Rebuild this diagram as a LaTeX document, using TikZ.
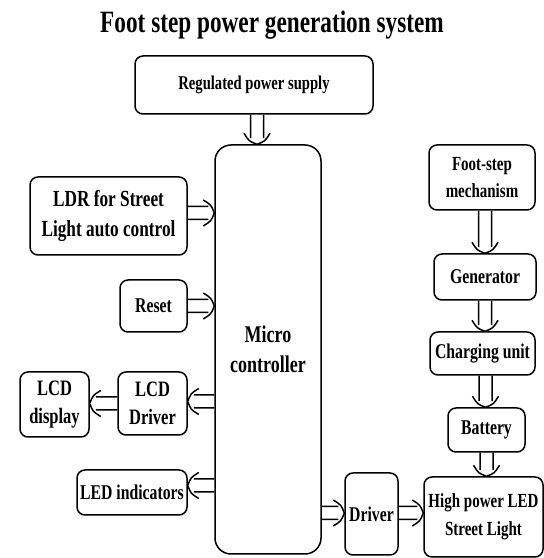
\documentclass[tikz,border=0pt]{standalone}
\usepackage{fontspec}
\newfontfamily\tnr{Liberation Serif}[FakeStretch=0.75]
\usetikzlibrary{arrows.meta,positioning,calc}

\begin{document}
\begin{tikzpicture}[x=1pt,y=1pt,
  blk/.style={draw,line width=1.5pt,rounded corners=8pt,align=center,inner sep=0pt,
    font=\tnr\bfseries\fontsize{21}{29}\selectfont},
  flow/.style={line width=1.5pt,line join=round,
    to path={let \p1=(\tikztostart), \p2=(\tikztotarget), \n1={atan2(\y2-\y1,\x2-\x1)} in
      ($(\p1)+({\n1+90}:6.5pt)$) -- ($(\p2)+(\n1:-6pt)+({\n1+90}:6.5pt)$)
      ($(\p1)+({\n1-90}:6.5pt)$) -- ($(\p2)+(\n1:-6pt)+({\n1-90}:6.5pt)$)
      ($(\p2)+(\n1:-11pt)+({\n1+90}:13pt)$) .. controls ($(\p2)+(\n1:-3pt)+({\n1+90}:8pt)$) .. (\p2)
      .. controls ($(\p2)+(\n1:-3pt)+({\n1-90}:8pt)$) .. ($(\p2)+(\n1:-11pt)+({\n1-90}:13pt)$)}}]
\useasboundingbox (0,0) rectangle (544,558);
\node[font=\tnr\bfseries\fontsize{31}{31}\selectfont] (title) at (272,533) {Foot step power generation system};
% left part
\node[blk,minimum width=238pt,minimum height=58pt,font=\tnr\bfseries\fontsize{19.5}{24}\selectfont] (rps) at (254,473) {Regulated power supply};
\node[blk,rounded corners=16pt,minimum width=106pt,minimum height=409pt,font=\tnr\bfseries\fontsize{24}{30}\selectfont] (mc) at (268,208.5) {Micro\\controller};
\node[blk,minimum width=157pt,minimum height=78pt,font=\tnr\bfseries\fontsize{23}{30}\selectfont] (ldr) at (108.5,342) {LDR for Street\\Light auto control};
\node[blk,minimum width=67pt,minimum height=52pt] (reset) at (153.5,252) {Reset};
\node[blk,minimum width=69pt,minimum height=63pt,font=\tnr\bfseries\fontsize{22}{28}\selectfont] (lcdd) at (152.5,154.5) {LCD\\Driver};
\node[blk,minimum width=69pt,minimum height=65pt,font=\tnr\bfseries\fontsize{22}{28}\selectfont] (lcd) at (54.5,153.5) {LCD\\display};
\node[blk,minimum width=110pt,minimum height=45pt] (led) at (132,65.5) {LED indicators};
\node[blk,minimum width=53pt,minimum height=82pt] (drv) at (371.5,44) {Driver};
% right part
\node[blk,minimum width=106pt,minimum height=65pt,font=\tnr\bfseries\fontsize{20}{27}\selectfont] (foot) at (482,380.5) {Foot-step\\mechanism};
\node[blk,minimum width=102pt,minimum height=46pt] (gen) at (485,281) {Generator};
\node[blk,minimum width=105pt,minimum height=43pt] (chg) at (482.5,204.5) {Charging unit};
\node[blk,minimum width=77pt,minimum height=44pt] (bat) at (486.5,128) {Battery};
\node[blk,minimum width=119pt,minimum height=80pt,font=\tnr\bfseries\fontsize{20}{28}\selectfont] (hpl) at (483.5,41) {High power LED\\Street Light};
% arrows
\draw[flow] ($(rps.south)+(3,0)$) to ($(rps.south |- mc.north)+(3,0)$);
\draw[flow] ($(ldr.east)+(0,3)$) to ($(ldr.east -| mc.west)+(0,3)$);
\draw[flow] (reset.east) to (reset.east -| mc.west);
\draw[flow] ($(lcdd.east -| mc.west)+(0,2)$) to ($(lcdd.east)+(0,2)$);
\draw[flow] (lcdd.west) to (lcdd.west -| lcd.east);
\draw[flow] ($(led.east -| mc.west)+(0,7)$) to ($(led.east)+(0,7)$);
\draw[flow] ($(drv.west -| mc.east)+(0,1)$) to ($(drv.west)+(0,1)$);
\draw[flow] ($(drv.east)+(0,1)$) to ($(drv.east -| hpl.west)+(0,1)$);
\draw[flow] ($(foot.south)+(3,0)$) to ($(foot.south |- gen.north)+(3,0)$);
\draw[flow] (gen.south) to (gen.south |- chg.north);
\draw[flow] ($(chg.south)+(3,0)$) to ($(chg.south |- bat.north)+(3,0)$);
\draw[flow] (bat.south) to (bat.south |- hpl.north);
\end{tikzpicture}
\end{document}
